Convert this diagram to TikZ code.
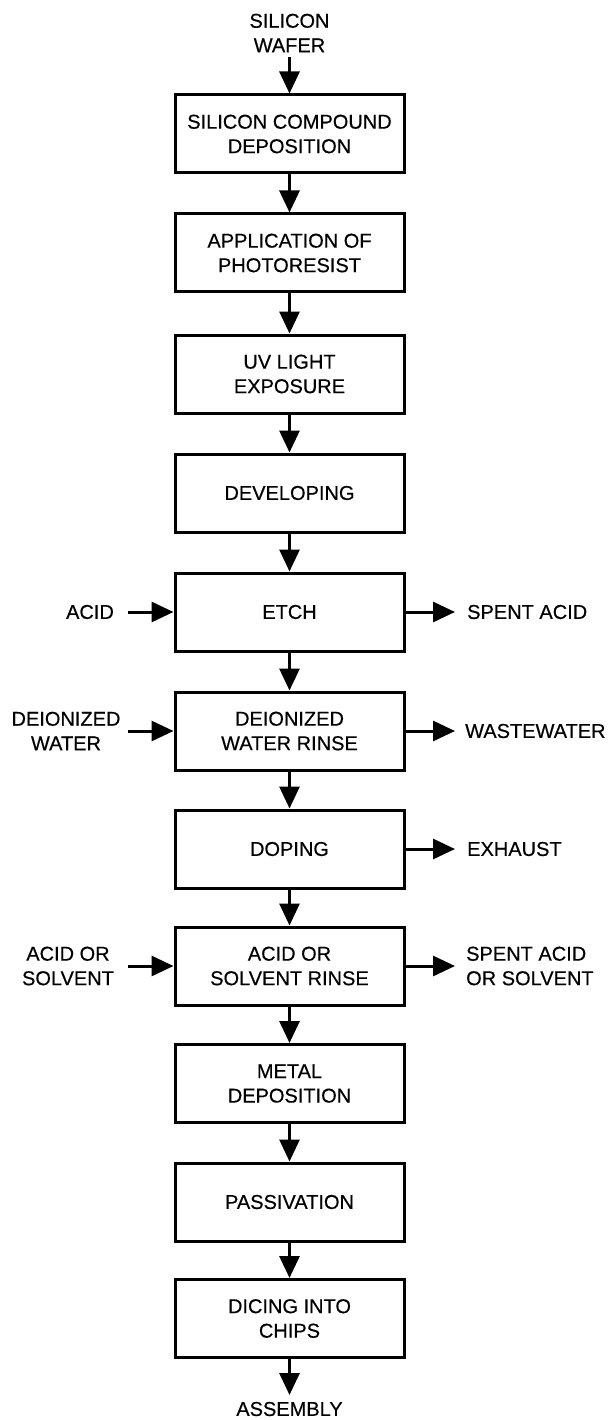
\documentclass[tikz,border=0pt]{standalone}
\usepackage{fontspec}
\setmainfont{Liberation Sans}[FakeBold=0.4]
\usetikzlibrary{arrows.meta}
\begin{document}
\begin{tikzpicture}[x=1pt,y=-1pt,
  every node/.style={font=\fontsize{20}{24.5}\selectfont, align=center, inner sep=0pt},
  stepbox/.style={draw, line width=3pt, minimum width=229pt, minimum height=78pt},
  flow/.style={line width=3pt, -{Triangle[length=22pt,width=20pt]}},
  sidetext/.style={align=center},
  outtext/.style={anchor=west, align=left}]
\useasboundingbox (0,0) rectangle (611,1420);
% main boxes
\node[stepbox] (b1) at (289.5,134) {SILICON COMPOUND\\DEPOSITION};
\node[stepbox] (b2) at (289.5,253) {APPLICATION OF\\PHOTORESIST};
\node[stepbox] (b3) at (289.5,374) {UV LIGHT\\EXPOSURE};
\node[stepbox] (b4) at (289.5,493) {DEVELOPING};
\node[stepbox] (b5) at (289.5,612) {ETCH};
\node[stepbox] (b6) at (289.5,731) {DEIONIZED\\WATER RINSE};
\node[stepbox] (b7) at (289.5,849) {DOPING};
\node[stepbox] (b8) at (289.5,966) {ACID OR\\SOLVENT RINSE};
\node[stepbox] (b9) at (289.5,1083.5) {METAL\\DEPOSITION};
\node[stepbox] (b10) at (289.5,1202) {PASSIVATION};
\node[stepbox] (b11) at (289.5,1318.5) {DICING INTO\\CHIPS};
% top / bottom labels
\node (wafer) at (289.5,33) {SILICON\\WAFER};
\coordinate (waferarr) at (289.5,57);
\node (assembly) at (289.5,1409) {ASSEMBLY};
\coordinate (assemblyarr) at (289.5,1395);
% vertical flow
\draw[flow] (waferarr) -- (b1.north);
\draw[flow] (b1.south) -- (b2.north);
\draw[flow] (b2.south) -- (b3.north);
\draw[flow] (b3.south) -- (b4.north);
\draw[flow] (b4.south) -- (b5.north);
\draw[flow] (b5.south) -- (b6.north);
\draw[flow] (b6.south) -- (b7.north);
\draw[flow] (b7.south) -- (b8.north);
\draw[flow] (b8.south) -- (b9.north);
\draw[flow] (b9.south) -- (b10.north);
\draw[flow] (b10.south) -- (b11.north);
\draw[flow] (b11.south) -- (assemblyarr);
% inputs
\node[sidetext] (acid) at (90,612) {ACID};
\coordinate (acidarr) at (128,612);
\draw[flow] (acidarr) -- (b5.west);
\node[sidetext] (diw) at (66,731) {DEIONIZED\\WATER};
\coordinate (diwarr) at (128,731);
\draw[flow] (diwarr) -- (b6.west);
\node[sidetext] (aos) at (68,966) {ACID OR\\SOLVENT};
\coordinate (aosarr) at (128,966);
\draw[flow] (aosarr) -- (b8.west);
% outputs
\coordinate (spentarr) at (455,612);
\draw[flow] (b5.east) -- (spentarr);
\node[outtext] (spent) at (467,612) {SPENT ACID};
\coordinate (wwarr) at (455,731);
\draw[flow] (b6.east) -- (wwarr);
\node[outtext] (ww) at (465,731) {WASTEWATER};
\coordinate (exarr) at (455,849);
\draw[flow] (b7.east) -- (exarr);
\node[outtext] (ex) at (467,849) {EXHAUST};
\coordinate (saosarr) at (455,966);
\draw[flow] (b8.east) -- (saosarr);
\node[outtext] (saos) at (466,966) {SPENT ACID\\OR SOLVENT};
\end{tikzpicture}
\end{document}
